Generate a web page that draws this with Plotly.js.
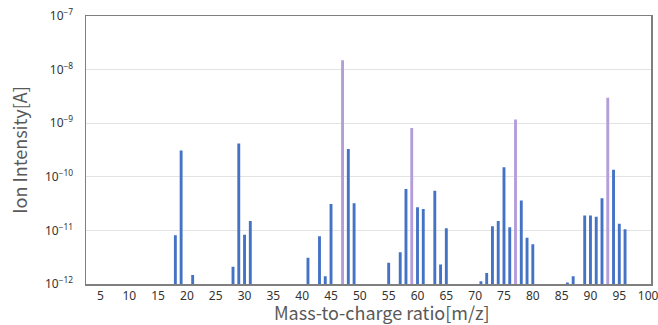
<!DOCTYPE html>
<html>
<head>
<meta charset="utf-8">
<script src="https://cdn.plot.ly/plotly-3.0.1.min.js"></script>
<style>html,body{margin:0;padding:0;background:#fff;}#chart{width:658px;height:325px;}</style>
</head>
<body>
<div id="chart"></div>
<script>
const massBlue = [18,19,21,28,29,30,31,41,43,44,45,48,49,55,57,58,60,61,63,64,65,71,72,73,74,75,76,78,79,80,86,87,89,90,91,92,94,95,96];
const intensityBlue = [8.1e-12,3.1e-10,1.47e-12,2.1e-12,4.2e-10,8.3e-12,1.5e-11,3.1e-12,7.8e-12,1.4e-12,3.1e-11,3.3e-10,3.2e-11,2.5e-12,3.9e-12,5.9e-11,2.7e-11,2.5e-11,5.5e-11,2.3e-12,1.1e-11,1.12e-12,1.6e-12,1.2e-11,1.5e-11,1.5e-10,1.15e-11,3.6e-11,7.3e-12,5.5e-12,1.07e-12,1.4e-12,1.9e-11,1.9e-11,1.8e-11,4.0e-11,1.36e-10,1.33e-11,1.05e-11];
const massPurple = [47,59,77,93];
const intensityPurple = [1.5e-8,8.1e-10,1.17e-9,3.0e-9];
const xTicks = [5,10,15,20,25,30,35,40,45,50,55,60,65,70,75,80,85,90,95,100];
const yTicks = [1e-12,1e-11,1e-10,1e-9,1e-8,1e-7];
const yTickText = ['10<sup>−12</sup>','10<sup>−11</sup>','10<sup>−10</sup>','10<sup>−9</sup>','10<sup>−8</sup>','10<sup>−7</sup>'];
const xTitle = 'Mass-to-charge ratio[m/z]';
const yTitle = 'Ion Intensity[A]';

const titleFont = {family: '"Noto Sans CJK JP", "Noto Sans", sans-serif', size: 18, color: '#595959'};
const tickFont = {family: '"Noto Sans", "DejaVu Sans", sans-serif', size: 12, color: '#333333'};

const traces = [
  {type: 'bar', x: massBlue, y: intensityBlue, width: 0.5, marker: {color: '#4472C4', line: {width: 0}}, hoverinfo: 'x+y'},
  {type: 'bar', x: massPurple, y: intensityPurple, width: 0.5, marker: {color: '#B39DDB', line: {width: 0}}, hoverinfo: 'x+y'}
];

const layout = {
  width: 658, height: 325,
  margin: {l: 86, r: 7, t: 16, b: 41},
  paper_bgcolor: '#fff', plot_bgcolor: '#fff',
  showlegend: false,
  barmode: 'overlay',
  xaxis: {
    range: [2.5, 100.5], tickmode: 'array', tickvals: xTicks,
    ticks: '', showgrid: false, zeroline: false,
    showline: true, linecolor: '#7f7f7f', linewidth: 1.5, mirror: true,
    tickfont: tickFont, ticklen: 0, ticklabeloverflow: 'allow'
  },
  yaxis: {
    type: 'log', range: [-12, -7], tickmode: 'array', tickvals: yTicks, ticktext: yTickText,
    ticks: '', showgrid: true, gridcolor: '#e3e3e3', gridwidth: 1, zeroline: false,
    showline: true, linecolor: '#7f7f7f', linewidth: 1.5, mirror: true,
    tickfont: tickFont, ticklabelstandoff: 9,
    title: {text: yTitle, font: titleFont, standoff: 12}
  },
  annotations: [
    {text: xTitle, xref: 'paper', yref: 'paper', x: 0.524, y: -0.106, xanchor: 'center', yanchor: 'middle',
     showarrow: false, font: titleFont, borderpad: 0}
  ]
};

Plotly.newPlot('chart', traces, layout, {displayModeBar: false, staticPlot: true});
</script>
</body>
</html>
